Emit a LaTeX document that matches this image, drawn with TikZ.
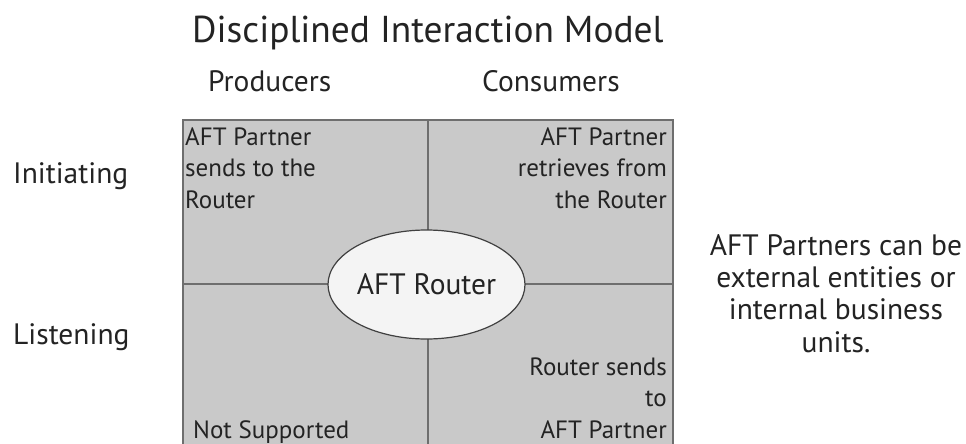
\documentclass[tikz,border=0pt]{standalone}
\usepackage{fontspec}
\usetikzlibrary{shapes.geometric}
\setmainfont{PT Sans}
\definecolor{cellgray}{RGB}{201,201,201}
\definecolor{linegray}{RGB}{110,110,110}
\definecolor{ink}{RGB}{35,35,35}
\definecolor{ellfill}{RGB}{244,244,244}
\begin{document}
\begin{tikzpicture}[x=1pt,y=-1pt,
  cell/.style={draw=linegray,line width=1.6pt,fill=cellgray,minimum width=245pt,minimum height=164pt,inner sep=0pt,anchor=north west},
  celltxt/.style={text=ink,inner sep=0pt,font=\fontsize{25}{31.5}\selectfont},
  lbl/.style={text=ink,inner sep=0pt,font=\fontsize{29.5}{32.3}\selectfont},
  router/.style={ellipse,draw=black!75,line width=1.2pt,fill=ellfill,minimum width=189pt,minimum height=109pt,inner sep=0pt,text=ink,font=\fontsize{29.5}{32}\selectfont}
]
\useasboundingbox (0,0) rectangle (966,444);
\clip (0,0) rectangle (966,444);
\fill[white] (0,0) rectangle (966,444);
% title
\node[lbl,anchor=base west,font=\fontsize{37.4}{40}\selectfont] (title) at (192,43) {Disciplined Interaction Model};
\node[lbl,anchor=base west] (prod) at (208,92) {Producers};
\node[lbl,anchor=base west] (cons) at (482,92) {Consumers};
\node[lbl,anchor=base west] (init) at (13,183) {Initiating};
\node[lbl,anchor=base west] (list) at (13,344) {Listening};
% grid cells
\node[cell] (c11) at (182,119) {};
\node[cell] (c12) at (427,119) {};
\node[cell] (c21) at (182,283) {};
\node[cell] (c22) at (427,283) {};
% cell texts (anchored at the baseline of their last line)
\node[celltxt,anchor=base west,align=left] (t11) at (185,208) {AFT Partner\\sends to the\\Router};
\node[celltxt,anchor=base east,align=right] (t12) at (667,208) {AFT Partner\\retrieves from\\the Router};
\node[celltxt,anchor=base west] (t21) at (193,438) {Not Supported};
\node[celltxt,anchor=base east,align=right] (t22) at (667,438) {Router sends\\to\\AFT Partner};
% router
\node[router] (rt) at (426.5,284.5) {AFT Router};
% side note
\node[lbl,align=center,anchor=base] (note) at (836,352) {AFT Partners can be\\external entities or\\internal business\\units.};
\end{tikzpicture}
\end{document}
